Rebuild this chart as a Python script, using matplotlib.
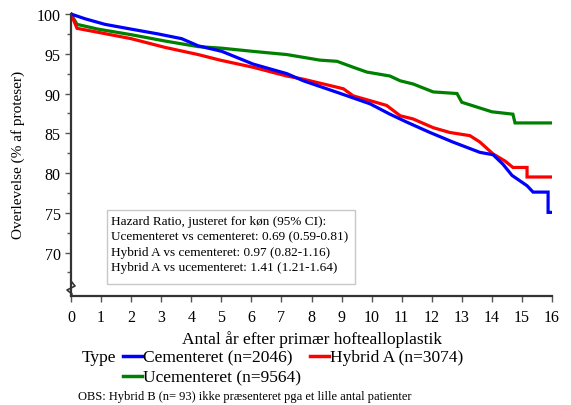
import matplotlib
matplotlib.use("Agg")
import matplotlib.pyplot as plt
from matplotlib.lines import Line2D
from matplotlib.patches import Rectangle

plt.rcParams['font.family'] = ['Liberation Serif', 'DejaVu Serif']

# Kaplan-Meier curves (years, % surviving)
cem_t = [0, 0.47, 1.13, 2.0, 2.89, 3.68, 4.23, 5.02, 6.06, 7.18, 7.73, 8.85, 9.95,
         10.61, 11.17, 11.94, 12.7, 13.6, 14.04, 14.37, 14.67, 14.94, 15.17, 15.37,
         15.87, 15.87, 16.0]
cem_v = [100, 99.4, 98.7, 98.1, 97.5, 96.9, 96.0, 95.3, 93.7, 92.5, 91.6, 90.15, 88.7,
         87.4, 86.4, 85.1, 83.9, 82.6, 82.3, 81.1, 79.7, 79.0, 78.4, 77.6,
         77.6, 75.05, 75.05]

hyb_t = [0, 0.2, 0.9, 2.0, 3.13, 4.23, 4.96, 6.06, 7.18, 7.73, 8.62, 9.06, 9.39, 9.95,
         10.5, 10.95, 11.38, 12.05, 12.6, 13.27, 13.6, 14.04, 14.44, 14.7, 15.17,
         15.17, 16.0]
hyb_v = [100, 98.2, 97.7, 96.9, 95.8, 94.9, 94.2, 93.3, 92.2, 91.8, 91.0, 90.6, 89.7, 89.1,
         88.5, 87.2, 86.8, 85.7, 85.1, 84.7, 83.9, 82.4, 81.5, 80.7, 80.7,
         79.5, 79.5]

ucem_t = [0, 0.2, 0.9, 2.0, 3.13, 4.23, 5.02, 6.06, 7.18, 8.28, 8.85, 9.39, 9.84, 10.61,
          10.95, 11.38, 12.05, 12.84, 13.0, 13.5, 14.0, 14.7, 14.77, 16.0]
ucem_v = [100, 98.7, 98.1, 97.4, 96.6, 95.9, 95.7, 95.3, 94.9, 94.2, 94.05, 93.3, 92.7, 92.2,
          91.6, 91.2, 90.2, 90.0, 88.9, 88.3, 87.7, 87.4, 86.3, 86.3]

x_ticks = list(range(0, 17))
y_ticks = [70, 75, 80, 85, 90, 95, 100]
y_minor = [67.5, 72.5, 77.5, 82.5, 87.5, 92.5, 97.5]

hr_lines = ["Hazard Ratio, justeret for køn (95% CI):",
            "Ucementeret vs cementeret: 0.69 (0.59-0.81)",
            "Hybrid A vs cementeret: 0.97 (0.82-1.16)",
            "Hybrid A vs ucementeret: 1.41 (1.21-1.64)"]

W, H = 571, 406
fig = plt.figure(figsize=(W / 100, H / 100), dpi=100)


def fx(px):
    return px / W


def fy(py):
    return 1 - py / H


ax = fig.add_axes([fx(71), fy(297), fx(552) - fx(71), fy(12) - fy(297)])

ax.plot(ucem_t, ucem_v, color='#008000', lw=2.3, solid_joinstyle='miter')
ax.plot(hyb_t, hyb_v, color='#ff0000', lw=2.3, solid_joinstyle='miter')
ax.plot(cem_t, cem_v, color='#0000ff', lw=2.3, solid_joinstyle='miter')

ax.set_xlim(0, 16)
ax.set_ylim(64.53, 100.38)
ax.set_xticks(x_ticks)
ax.set_yticks(y_ticks)
ax.set_yticks(y_minor, minor=True)
ax.tick_params(axis='both', which='major', labelsize=11.5, length=4, width=1,
               direction='out', color='#555555')
ax.tick_params(axis='y', which='minor', length=3, width=1, color='#555555')
ax.tick_params(axis='x', pad=5)

for s in ['top', 'right']:
    ax.spines[s].set_visible(False)
for s in ['left', 'bottom']:
    ax.spines[s].set_linewidth(1.6)
    ax.spines[s].set_color('#333333')
ax.spines['left'].set_bounds(64.53, 100)

ax.set_xlabel("Antal år efter primær hoftealloplastik", fontsize=12.5, labelpad=4)
ax.set_ylabel("Overlevelse (% af proteser)", fontsize=11, labelpad=8)

# axis break mark
fig.add_artist(Line2D([fx(71), fx(75), fx(67), fx(72)],
                      [fy(282), fy(287), fy(291), fy(295)],
                      color='#333333', lw=1.2))

# hazard ratio box
fig.add_artist(Rectangle((fx(107), fy(285)), fx(355) - fx(107), fy(211) - fy(285),
                         fill=False, edgecolor='#c8c8c8', lw=1))
for i, line in enumerate(hr_lines):
    fig.text(fx(111), fy(222 + i * 15.5), line, fontsize=9.5, va='center', ha='left')

# legend below the plot
fig.text(fx(82), fy(358), "Type", fontsize=12.5, va='center', ha='left')
legend_items = [("Cementeret (n=2046)", '#0000ff', 123, 358),
                ("Hybrid A (n=3074)", '#ff0000', 310, 358),
                ("Ucementeret (n=9564)", '#008000', 123, 378)]
for label, col, x0, y0 in legend_items:
    fig.add_artist(Line2D([fx(x0), fx(x0 + 19)], [fy(y0 - 1), fy(y0 - 1)],
                          color=col, lw=2.5))
    fig.text(fx(x0 + 20), fy(y0), label, fontsize=12.5, va='center', ha='left')

fig.text(fx(78), fy(397), "OBS: Hybrid B (n= 93) ikke præsenteret pga et lille antal patienter",
         fontsize=9, va='center', ha='left')

fig.savefig("out.png", dpi=100)
